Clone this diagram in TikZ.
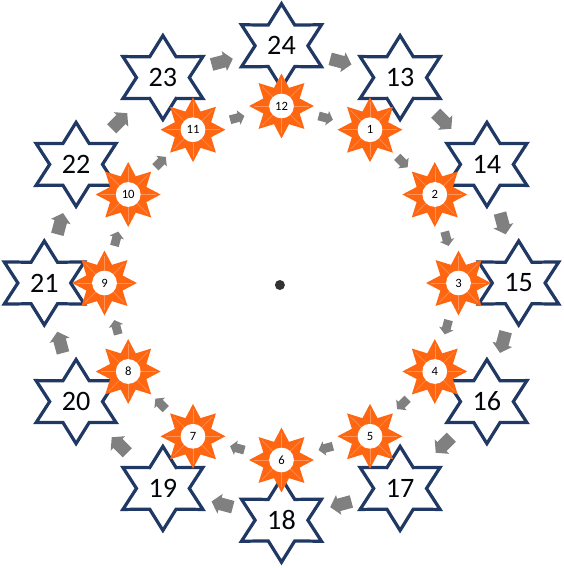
\documentclass[tikz,border=0pt]{standalone}
\usepackage{fontspec}
\setmainfont{Carlito}
\usepackage{tikz}
\usetikzlibrary{arrows.meta,shapes.geometric}
\definecolor{starframe}{RGB}{32,56,100}
\definecolor{sunfill}{RGB}{255,102,17}
\definecolor{flowgray}{RGB}{128,128,128}

\begin{document}
\begin{tikzpicture}[
  hexstar/.style={
    star, star points=6, star point ratio=1.75,
    draw=starframe, fill=white, line width=2.3pt,
    minimum size=2.1cm, inner sep=0pt, xscale=1.1
  },
  sunstar/.style={
    star, star points=8, star point ratio=1.65,
    fill=sunfill, minimum size=1.62cm, inner sep=0pt
  },
  suncore/.style={circle, fill=white, minimum size=0.62cm, inner sep=0pt,
    font=\fontsize{9}{9}\selectfont},
  bignum/.style={font=\fontsize{20}{20}\selectfont, text=black!90!starframe},
  outerflow/.style={-{Triangle[length=0.22cm,width=0.5cm]}, line width=0.32cm,
    draw=flowgray, shorten <=1.26cm, shorten >=1.26cm},
  innerflow/.style={-{Triangle[length=0.15cm,width=0.36cm]}, line width=0.22cm,
    draw=flowgray, shorten <=0.96cm, shorten >=0.96cm}
]
\useasboundingbox (-7.0375,-7.125) rectangle (7.0375,7.075);

% outer ring
\foreach \n in {13,...,24}
  \node[hexstar] (o\n) at ({90-30*(\n-12)}:5.93) {};
\foreach \n in {13,...,24}
  \node[bignum] at (o\n) {\n};

% inner ring
\foreach \n in {1,...,12} {
  \node[sunstar] (s\n) at ({90-30*\n}:4.425) {};
  \foreach \i in {1,...,8}
    \draw[sunfill!70!white, line width=0.35pt, shorten <=0.32cm, shorten >=0.14cm]
      (s\n.center) -- (s\n.outer point \i);
  \node[suncore] at (s\n) {\n};
}

\node[circle, fill=black!80, minimum size=0.25cm, inner sep=0pt] (hub) at (-0.04,-0.05) {};

\foreach \n [remember=\n as \p (initially 24)] in {13,...,24}
  \draw[outerflow] (o\p.center) -- (o\n.center);
\foreach \n [remember=\n as \p (initially 12)] in {1,...,12}
  \draw[innerflow] (s\p.center) -- (s\n.center);
\end{tikzpicture}
\end{document}
